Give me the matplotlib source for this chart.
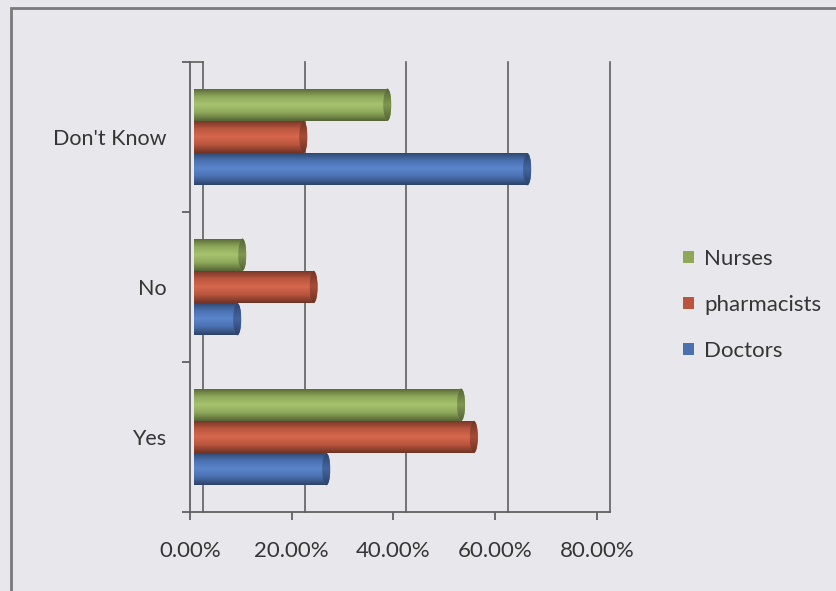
import numpy as np
import matplotlib
matplotlib.use("Agg")
import matplotlib.pyplot as plt
from matplotlib.patches import Patch, Rectangle, Ellipse
from matplotlib.transforms import ScaledTranslation
from matplotlib.colors import LinearSegmentedColormap

categories = ["Yes", "No", "Don't Know"]
series_names = ["Doctors", "pharmacists", "Nurses"]
doctors = [26.0, 8.5, 65.5]
pharmacists = [55.0, 23.5, 21.5]
nurses = [52.5, 9.5, 38.0]
x_ticks = [0, 20, 40, 60, 80]
x_tick_labels = ["0.00%", "20.00%", "40.00%", "60.00%", "80.00%"]

colors = {"Doctors": "#4a70b0", "pharmacists": "#b9553d", "Nurses": "#8ea85a"}
values = {"Doctors": doctors, "pharmacists": pharmacists, "Nurses": nurses}

BG = "#e8e8ec"
TXT = "#353535"
AX = "#606060"
FONT = ["Lato", "DejaVu Sans"]

W, H, DPI = 837, 591, 100
fig = plt.figure(figsize=(W / DPI, H / DPI), dpi=DPI, facecolor=BG)
ax = fig.add_axes([190 / W, 1 - 512 / H, (610 - 190) / W, 450 / H])
ax.set_facecolor(BG)

px_per_unit = (597 - 190) / 80.0
xlim = (0, (610 - 190) / px_per_unit)
ylim = (-0.5, len(categories) - 0.5)

# back-wall gridlines (3D depth offset)
depth_px = 13
depth = ScaledTranslation(depth_px / DPI, 0, fig.dpi_scale_trans)
for xv in x_ticks:
    ax.plot([xv, xv], [0, 1], transform=ax.get_xaxis_transform() + depth,
            color=AX, lw=1.2, zorder=1, clip_on=False)
# top edge of the side wall
ax.plot([-depth_px / px_per_unit, 0], [1, 1],
        transform=ax.get_xaxis_transform() + depth,
        color=AX, lw=1.2, zorder=1, clip_on=False)

# bars (cylinders)
bar_h = 0.215
cap_w = 8 / px_per_unit
half_depth = ScaledTranslation(4 / DPI, 0, fig.dpi_scale_trans)
offsets = {"Doctors": -bar_h, "pharmacists": 0.0, "Nurses": bar_h}
y = np.arange(len(categories))
grad = np.linspace(0, 1, 64).reshape(-1, 1)
for name in series_names:
    base = matplotlib.colors.to_rgb(colors[name])
    dark = tuple(c * 0.6 for c in base)
    light = tuple(min(1, c * 1.1 + 0.04) for c in base)
    cmap = LinearSegmentedColormap.from_list(
        name, [dark, base, light, base, dark], N=256)
    capmap = LinearSegmentedColormap.from_list(
        name + "c", [tuple(c * 0.6 for c in base), tuple(c * 0.9 for c in base),
                     tuple(c * 0.6 for c in base)], N=256)
    bars = ax.barh(y + offsets[name], values[name], height=bar_h,
                   color=colors[name], zorder=3, linewidth=0)
    for b in bars:
        b.set_transform(ax.transData + half_depth)
        x0, y0 = b.get_x(), b.get_y()
        w, h = b.get_width(), b.get_height()
        im = ax.imshow(grad, cmap=cmap, aspect="auto",
                       extent=[x0, x0 + w, y0, y0 + h], origin="lower",
                       zorder=4, interpolation="bilinear")
        im.set_transform(ax.transData + half_depth)
        im.set_clip_path(b)
        cap = Ellipse((x0 + w, y0 + h / 2), cap_w, h, facecolor=colors[name],
                      edgecolor="none", zorder=5,
                      transform=ax.transData + half_depth)
        ax.add_patch(cap)
        imc = ax.imshow(grad, cmap=capmap, aspect="auto",
                        extent=[x0 + w - cap_w / 2, x0 + w + cap_w / 2, y0, y0 + h],
                        origin="lower", zorder=6, interpolation="bilinear")
        imc.set_transform(ax.transData + half_depth)
        imc.set_clip_path(cap)

ax.set_xlim(*xlim)
ax.set_ylim(*ylim)

# axes styling
for s in ["top", "right"]:
    ax.spines[s].set_visible(False)
for s in ["left", "bottom"]:
    ax.spines[s].set_color(AX)
    ax.spines[s].set_linewidth(1.3)

ax.set_xticks(x_ticks)
ax.set_xticklabels(x_tick_labels, fontsize=16, color=TXT, family=FONT)
ax.tick_params(axis="x", direction="out", length=6, width=1.3, color=AX, pad=15)

ax.set_yticks(np.arange(len(categories) + 1) - 0.5)
ax.set_yticklabels([])
ax.tick_params(axis="y", which="major", direction="out", length=6, width=1.3, color=AX)
ax.set_yticks(y, minor=True)
ax.set_yticklabels(categories, minor=True, fontsize=15.5, color=TXT, family=FONT)
ax.tick_params(axis="y", which="minor", length=0, pad=17)

# legend
handles = [Patch(facecolor=colors[n], edgecolor="none") for n in ["Nurses", "pharmacists", "Doctors"]]
leg = fig.legend(handles, ["Nurses", "pharmacists", "Doctors"],
                 loc="upper left", bbox_to_anchor=(663 / W, 1 - 229 / H),
                 frameon=False, handlelength=0.5, handleheight=0.5,
                 handletextpad=0.45, labelspacing=1.17,
                 prop={"family": FONT, "size": 16})
for t in leg.get_texts():
    t.set_color(TXT)

# outer frame
fig.patches.append(Rectangle((11 / W, -0.1), 1.2, 1 - 8 / H + 0.1,
                             transform=fig.transFigure, fill=False,
                             edgecolor="#7a7a7a", lw=2))

fig.savefig("out.png", dpi=DPI, facecolor=BG)
